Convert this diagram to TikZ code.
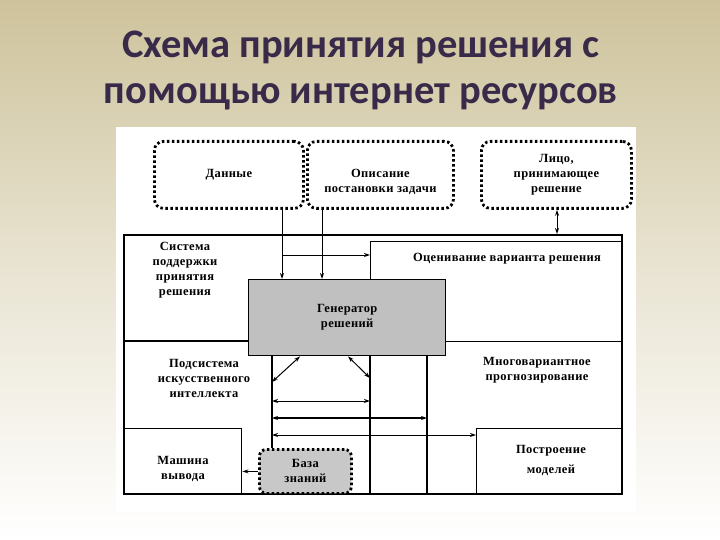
\documentclass[tikz,border=0pt]{standalone}
\usepackage{fontspec}
\setmainfont{Liberation Serif}[LetterSpace=3]
\newfontfamily\titlefont{Carlito}
\usetikzlibrary{arrows.meta}
\definecolor{bgtop}{RGB}{206,195,156}
\definecolor{titlecol}{RGB}{58,42,74}
\definecolor{genfill}{RGB}{192,192,192}
\definecolor{basefill}{RGB}{200,200,200}
\tikzset{
  lbl/.style={font=\fontsize{12.5}{15}\selectfont\bfseries, align=center, inner sep=0pt},
  boxline/.style={draw=black, line width=1.4pt},
  plainbox/.style={draw=black, line width=1.4pt, inner sep=0pt},
  dotbox/.style={draw=black, line width=2.8pt, dash pattern=on 2.5pt off 2.5pt, rounded corners=9pt, inner sep=0pt},
  conn/.style={draw=black, line width=1pt, -{Stealth[length=6pt,width=4pt]}},
  dconn/.style={draw=black, line width=1pt, {Stealth[length=6pt,width=4pt]}-{Stealth[length=6pt,width=4pt]}},
}
\begin{document}
\begin{tikzpicture}[x=1pt,y=-1pt]
\useasboundingbox (0,0) rectangle (720,540);
\shade[top color=bgtop, bottom color=white, middle color=bgtop!45!white] (0,0) rectangle (720,540);
\fill[white] (116,127) rectangle (636,512);
% title
\node[font=\titlefont\fontsize{40.5}{46}\selectfont\bfseries, text=titlecol, align=center] (title) at (361,70) {Схема принятия решения с\\помощью интернет ресурсов};
% top dotted boxes
\node[dotbox, minimum width=149pt, minimum height=67pt, anchor=north west] (data) at (153,140) {};
\node[dotbox, minimum width=146pt, minimum height=67pt, anchor=north west] (task) at (306,140) {};
\node[dotbox, minimum width=150pt, minimum height=67pt, anchor=north west] (dm) at (480,140) {};
\node[lbl] at (data.center) {Данные};
\node[lbl] at ([yshift=-7pt]task.center) {Описание\\постановки задачи};
\node[lbl] at (dm.center) {Лицо,\\принимающее\\решение};
% main frame
\node[plainbox, line width=1.8pt, minimum width=498pt, minimum height=259pt, anchor=north west] (frame) at (123,234) {};
\node[plainbox, minimum width=251pt, minimum height=100pt, anchor=north west] (ocen) at (370,241) {};
\node[plainbox, minimum width=118pt, minimum height=65pt, anchor=north west] (mash) at (123,428) {};
\node[plainbox, minimum width=145pt, minimum height=65pt, anchor=north west] (postr) at (476,428) {};
\coordinate (sysb) at (248,341);
\draw[boxline] (frame.west |- sysb) -- (sysb);
\node[plainbox, fill=genfill, minimum width=197pt, minimum height=76pt, anchor=north west] (gen) at (248,279) {};
\node[dotbox, fill=basefill, rounded corners=7pt, minimum width=92pt, minimum height=44pt, anchor=north west] (base) at (258,448) {};
% vertical lines under generator
\draw[boxline] (gen.south -| 272,0) -- (base.north -| 272,0);
\draw[boxline] (gen.south -| 370,0) -- (frame.south -| 370,0);
\draw[boxline] (gen.south -| 427,0) -- (frame.south -| 427,0);
% labels
\node[lbl] at (185,270) {Система\\поддержки\\принятия\\решения};
\node[lbl] at (507,259) {Оценивание варианта решения};
\node[lbl] at (gen.center) {Генератор\\решений};
\node[lbl] at (204,378) {Подсистема\\искусственного\\интеллекта};
\node[lbl] at (537,370) {Многовариантное\\прогнозирование};
\node[lbl] at (183,469) {Машина\\вывода};
\node[lbl] at (base.center) {База\\знаний};
\node[lbl, font=\fontsize{12.5}{20}\selectfont\bfseries] at (551,460) {Построение\\моделей};
% connectors
\draw[conn] (data.south -| 282,0) -- (gen.north -| 282,0);
\draw[conn] (task.south -| 322,0) -- (gen.north -| 322,0);
\draw[conn] (282,255) -- (ocen.west |- 0,255);
\draw[dconn] (dm.south -| 557,0) -- (frame.north -| 557,0);
\draw[dconn] (gen.south -| 300,0) -- (272,382);
\draw[dconn] (gen.south -| 348,0) -- (370,378);
\draw[dconn] (272,401) -- (370,401);
\draw[dconn, line width=1.8pt] (272,418) -- (427,418);
\draw[dconn] (272,435) -- (postr.west |- 0,435);
\draw[conn] (base.west) -- (mash.east |- base.west);
\end{tikzpicture}
\end{document}
